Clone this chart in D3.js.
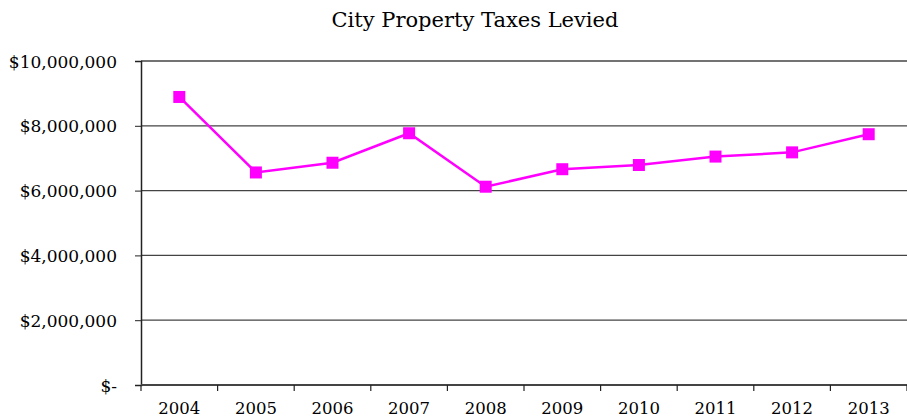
<!DOCTYPE html>
<html>
<head>
<meta charset="utf-8">
<script src="https://cdn.jsdelivr.net/npm/d3@7"></script>
<style>
  body { margin: 0; background: #fff; }
  text { font-family: "DejaVu Serif", serif; fill: #000; }
</style>
</head>
<body>
<div id="chart"></div>
<script>
const years = ['2004', '2005', '2006', '2007', '2008', '2009', '2010', '2011', '2012', '2013'];
const taxesLevied = [8890000, 6560000, 6860000, 7770000, 6120000, 6660000, 6790000, 7050000, 7180000, 7740000];
const yTicks = [0, 2000000, 4000000, 6000000, 8000000, 10000000];

const width = 907;
const height = 420;
const margin = { top: 61, right: 0, bottom: 35, left: 141 };

const svg = d3.select('#chart')
  .append('svg')
  .attr('width', width)
  .attr('height', height);

const xCoord = d3.scaleBand()
  .domain(years)
  .range([margin.left, width - margin.right]);

const yCoord = d3.scaleLinear()
  .domain([0, 10000000])
  .range([height - margin.bottom, margin.top]);

const fmt = d => d === 0 ? '$-' : '$' + d3.format(',')(d);

// gridlines
svg.append('g')
  .selectAll('line')
  .data(yTicks.filter(d => d > 0))
  .join('line')
  .attr('x1', margin.left)
  .attr('x2', width)
  .attr('y1', d => yCoord(d))
  .attr('y2', d => yCoord(d))
  .attr('stroke', '#444')
  .attr('stroke-width', 1.3);

// y axis
const yAxis = svg.append('g')
  .attr('transform', `translate(${margin.left}, 0)`)
  .call(d3.axisLeft(yCoord).tickValues(yTicks).tickFormat(fmt).tickSize(6).tickPadding(18));
yAxis.select('.domain').attr('stroke', '#222').attr('stroke-width', 1.5);
yAxis.selectAll('.tick line').attr('stroke', '#222');
yAxis.selectAll('text').style('font-size', '17px').attr('dy', '0.36em');

// x axis, ticks between categories
const edges = years.map(y => xCoord(y)).concat([width]);
const xAxis = svg.append('g')
  .attr('transform', `translate(0, ${yCoord(0)})`);
xAxis.append('line')
  .attr('x1', margin.left)
  .attr('x2', width)
  .attr('stroke', '#444')
  .attr('stroke-width', 2.2);
xAxis.selectAll('.edge')
  .data(edges)
  .join('line')
  .attr('class', 'edge')
  .attr('x1', d => d)
  .attr('x2', d => d)
  .attr('y1', 0)
  .attr('y2', 6)
  .attr('stroke', '#222')
  .attr('stroke-width', 1.2);
xAxis.selectAll('.lbl')
  .data(years)
  .join('text')
  .attr('class', 'lbl')
  .attr('x', d => xCoord(d) + xCoord.bandwidth() / 2)
  .attr('y', 29)
  .attr('text-anchor', 'middle')
  .style('font-size', '16.5px')
  .text(d => d);

// line
const line = d3.line()
  .x((d, i) => xCoord(years[i]) + xCoord.bandwidth() / 2)
  .y(d => yCoord(d));

svg.append('path')
  .datum(taxesLevied)
  .attr('fill', 'none')
  .attr('stroke', '#ff00ff')
  .attr('stroke-width', 2.5)
  .attr('d', line);

const size = 12;
svg.append('g')
  .selectAll('rect')
  .data(taxesLevied)
  .join('rect')
  .attr('x', (d, i) => xCoord(years[i]) + xCoord.bandwidth() / 2 - size / 2)
  .attr('y', d => yCoord(d) - size / 2)
  .attr('width', size)
  .attr('height', size)
  .attr('fill', '#ff00ff');

// title
svg.append('text')
  .attr('x', 475)
  .attr('y', 27)
  .attr('text-anchor', 'middle')
  .style('font-size', '21px')
  .text('City Property Taxes Levied');
</script>
</body>
</html>
